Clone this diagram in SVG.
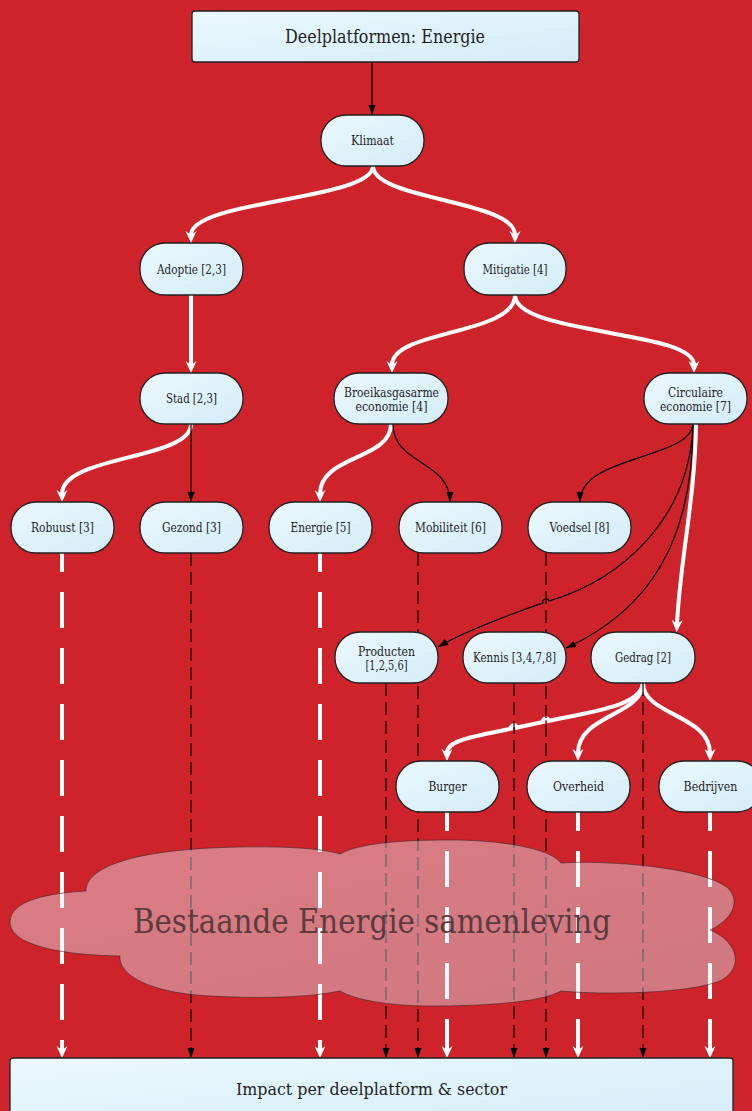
<svg xmlns="http://www.w3.org/2000/svg" width="752" height="1111" viewBox="0 0 752 1111">
<style>
.n rect{fill:url(#ng);stroke:#222;stroke-width:1.3}
.t{font-family:"DejaVu Serif","Liberation Serif",serif;font-size:13px;fill:#1e1e1e;text-anchor:middle}
.w{fill:none;stroke:#fff;stroke-width:4}
.b{fill:none;stroke:#000;stroke-width:1.2}
.wd{stroke-dasharray:36 20;stroke-dashoffset:17}
.bd{stroke-dasharray:13 6}
.wa{marker-end:url(#aw)}
.ba{marker-end:url(#ab)}
</style>
<defs>
<linearGradient id="ng" x1="0" y1="0" x2="1" y2="1">
<stop offset="0" stop-color="#ebf8fd"/>
<stop offset="1" stop-color="#d3edf8"/>
</linearGradient>
<marker id="aw" viewBox="0 0 12 12" refX="4" refY="6" markerWidth="12" markerHeight="12" markerUnits="userSpaceOnUse" orient="auto"><path d="M0,0.5 L12,6 L0,11.5 L4,6 z" fill="#fff"/></marker>
<marker id="ab" viewBox="0 0 10 8" refX="10" refY="4" markerWidth="10" markerHeight="8" markerUnits="userSpaceOnUse" orient="auto"><path d="M0,0.5 L10,4 L0,7.5 z" fill="#000"/></marker>
</defs>
<rect x="0" y="0" width="752" height="1111" fill="#cf232b"/>
<g id="connectors">
<path class="b ba" d="M372,62 L372,115"/>
<path class="w wa" d="M373,166 C373,200 191,200 191,235"/>
<path class="w wa" d="M373,166 C373,200 515,200 515,235"/>
<path class="w wa" d="M191,295 L191,365"/>
<path class="w wa" d="M515,295 C515,335 392,330 392,365"/>
<path class="w wa" d="M515,295 C515,335 694,330 694,365"/>
<path class="w wa" d="M191,424 C191,460 62,455 62,494"/>
<path class="b ba" d="M191,424 L191,502"/>
<path class="w wa" d="M391,424 C391,460 320,455 320,494"/>
<path class="b ba" d="M393,424 C393,465 450,460 450,502"/>
<path class="b ba" d="M693,424 C690,460 580,455 580,502"/>
<path class="b ba" d="M693,424 C690,520 620,580 549,601 A3,3 0 0 0 543,602.9 C500,618 460,634 438,647"/>
<path class="b ba" d="M693,424 C693,540 650,610 566,648"/>
<path class="w wa" d="M696,424 C695,500 680,560 677,624"/>
<path class="w wa" d="M643,683 C641,702 610,709 560,718.5 L549,720.8 A3,3 0 0 0 543,722 L517,727.5 A3,3 0 0 0 511,728.7 L500,731 C465,738 447,742 447,753"/>
<path class="w wa" d="M643,683 C643,715 578,715 578,753"/>
<path class="w wa" d="M643,683 C643,715 710,715 710,753"/>
<path class="w wd wa" d="M62,553 L62,1050"/>
<path class="b bd ba" d="M191,553 L191,1058"/>
<path class="w wd wa" d="M320,553 L320,1050"/>
<path class="b bd ba" d="M418,553 L418,1058"/>
<path class="b bd ba" d="M546,553 L546,1058"/>
<path class="b bd ba" d="M386,683 L386,1058"/>
<path class="b bd ba" d="M514,683 L514,1058"/>
<path class="b bd ba" d="M643,683 L643,1058"/>
<path class="w wd wa" d="M447,812 L447,1050"/>
<path class="w wd wa" d="M578,812 L578,1050"/>
<path class="w wd wa" d="M710,812 L710,1050"/>
</g>
<g id="n-top" class="n"><rect x="192" y="11" width="387" height="51" rx="3"/><text class="t" x="385" y="43" style="font-size:18px" textLength="200" lengthAdjust="spacingAndGlyphs">Deelplatformen: Energie</text></g>
<g id="n-klimaat" class="n"><rect x="321" y="115" width="103" height="51" rx="25"/><text class="t" x="372.5" y="145" textLength="43" lengthAdjust="spacingAndGlyphs">Klimaat</text></g>
<g id="n-adoptie" class="n"><rect x="140" y="243" width="103" height="52" rx="25"/><text class="t" x="191.5" y="274" textLength="69" lengthAdjust="spacingAndGlyphs">Adoptie [2,3]</text></g>
<g id="n-mitigatie" class="n"><rect x="464" y="243" width="102" height="52" rx="25"/><text class="t" x="515" y="274" textLength="65" lengthAdjust="spacingAndGlyphs">Mitigatie [4]</text></g>
<g id="n-stad" class="n"><rect x="140" y="373" width="103" height="51" rx="25"/><text class="t" x="191.5" y="403.3" textLength="51" lengthAdjust="spacingAndGlyphs">Stad [2,3]</text></g>
<g id="n-broeikas" class="n"><rect x="334" y="373" width="114" height="51" rx="25"/><text class="t" x="391.5" y="397" textLength="95" lengthAdjust="spacingAndGlyphs">Broeikasgasarme</text><text class="t" x="391.5" y="411" textLength="72" lengthAdjust="spacingAndGlyphs">economie [4]</text></g>
<g id="n-circulaire" class="n"><rect x="644" y="373" width="103" height="51" rx="25"/><text class="t" x="695.5" y="397" textLength="55" lengthAdjust="spacingAndGlyphs">Circulaire</text><text class="t" x="695.5" y="411" textLength="71" lengthAdjust="spacingAndGlyphs">economie [7]</text></g>
<g id="n-robuust" class="n"><rect x="11" y="502" width="103" height="51" rx="25"/><text class="t" x="62.5" y="532.3" textLength="63" lengthAdjust="spacingAndGlyphs">Robuust [3]</text></g>
<g id="n-gezond" class="n"><rect x="140" y="502" width="103" height="51" rx="25"/><text class="t" x="191.5" y="532.3" textLength="59" lengthAdjust="spacingAndGlyphs">Gezond [3]</text></g>
<g id="n-energie" class="n"><rect x="269" y="502" width="103" height="51" rx="25"/><text class="t" x="320.5" y="532.3" textLength="60" lengthAdjust="spacingAndGlyphs">Energie [5]</text></g>
<g id="n-mobiliteit" class="n"><rect x="399" y="502" width="103" height="51" rx="25"/><text class="t" x="450.5" y="532.3" textLength="71" lengthAdjust="spacingAndGlyphs">Mobiliteit [6]</text></g>
<g id="n-voedsel" class="n"><rect x="528" y="502" width="103" height="51" rx="25"/><text class="t" x="579.5" y="532.3" textLength="60" lengthAdjust="spacingAndGlyphs">Voedsel [8]</text></g>
<g id="n-producten" class="n"><rect x="335" y="632" width="103" height="51" rx="25"/><text class="t" x="386.5" y="656" textLength="57" lengthAdjust="spacingAndGlyphs">Producten</text><text class="t" x="386.5" y="670" textLength="42" lengthAdjust="spacingAndGlyphs">[1,2,5,6]</text></g>
<g id="n-kennis" class="n"><rect x="463" y="632" width="103" height="51" rx="25"/><text class="t" x="514.5" y="662.3" textLength="83" lengthAdjust="spacingAndGlyphs">Kennis [3,4,7,8]</text></g>
<g id="n-gedrag" class="n"><rect x="591" y="632" width="104" height="51" rx="25"/><text class="t" x="643" y="662.3" textLength="56" lengthAdjust="spacingAndGlyphs">Gedrag [2]</text></g>
<g id="n-burger" class="n"><rect x="396" y="761" width="103" height="51" rx="25"/><text class="t" x="447.5" y="791.3" textLength="38" lengthAdjust="spacingAndGlyphs">Burger</text></g>
<g id="n-overheid" class="n"><rect x="527" y="761" width="103" height="51" rx="25"/><text class="t" x="578.5" y="791.3" textLength="51" lengthAdjust="spacingAndGlyphs">Overheid</text></g>
<g id="n-bedrijven" class="n"><rect x="659" y="761" width="103" height="51" rx="25"/><text class="t" x="710.5" y="791.3" textLength="54" lengthAdjust="spacingAndGlyphs">Bedrijven</text></g>
<g id="cloud">
<path d="M86,891 C86,868 130,849 240,847 C290,846 325,849 340,854 C360,843 400,840 450,840 C500,840 550,848 561,863 C600,860 700,866 728,888 C742,903 730,921 710,930 C735,940 746,965 722,980 C692,994 600,995 561,991 C540,1003 480,1006 430,1006 C390,1006 355,1000 340,991 C300,999 250,998 210,996 C150,993 118,975 120,956 C60,955 10,945 10,922 C10,900 50,893 86,891 Z" fill="url(#ng)" fill-opacity="0.42" stroke="#3a2426" stroke-opacity="0.6" stroke-width="1"/>
<text x="372" y="933" style="font-family:'DejaVu Serif','Liberation Serif',serif;font-size:33px;fill:#5b3b3d;text-anchor:middle" textLength="478" lengthAdjust="spacingAndGlyphs">Bestaande Energie samenleving</text>
</g>
<g id="n-impact" class="n"><rect x="10" y="1058" width="723" height="70" rx="3"/><text class="t" x="371.5" y="1095" style="font-size:17px" textLength="271" lengthAdjust="spacingAndGlyphs">Impact per deelplatform &amp; sector</text></g>
</svg>
